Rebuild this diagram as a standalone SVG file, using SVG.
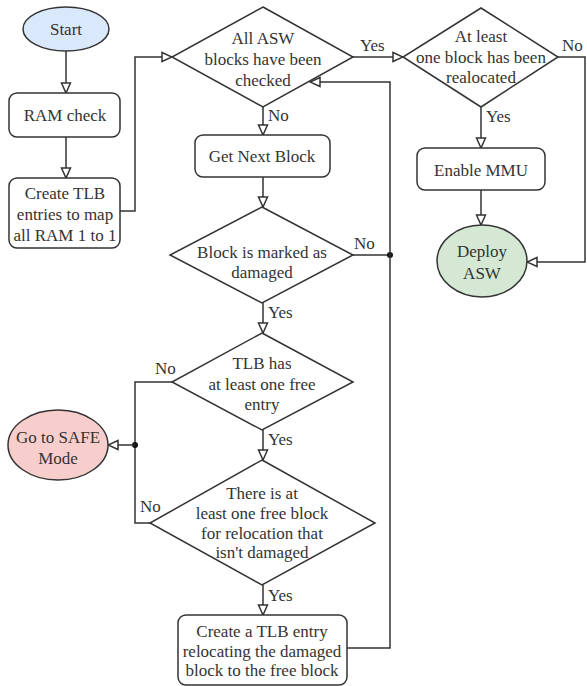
<svg xmlns="http://www.w3.org/2000/svg" width="587" height="686" viewBox="0 0 587 686">
<style>
.n{fill:#fff;stroke:#333;stroke-width:1.5}
.t{font-family:'Liberation Serif','Times New Roman','DejaVu Serif',serif;font-size:17px;fill:#333;text-anchor:middle;dominant-baseline:central}
.l{font-family:'Liberation Serif','Times New Roman','DejaVu Serif',serif;font-size:17px;fill:#333}
.c{fill:none;stroke:#333;stroke-width:1.5}
</style>
<defs>
<marker id="a" markerUnits="userSpaceOnUse" markerWidth="12" markerHeight="12" refX="11" refY="6" orient="auto" viewBox="0 0 12 12">
<path d="M1,1.5 L11,6 L1,10.5 z" fill="#fff" stroke="#333" stroke-width="1.5"/>
</marker>
</defs>
<rect width="587" height="686" fill="#fff"/>
<g id="connectors">
<path class="c" d="M66,51 V93" marker-end="url(#a)"/>
<path class="c" d="M66,137 V178" marker-end="url(#a)"/>
<path class="c" d="M120,211 H135 V57 H172" marker-end="url(#a)"/>
<path class="c" d="M353,57 H403" marker-end="url(#a)"/>
<path class="c" d="M263,107 V135" marker-end="url(#a)"/>
<path class="c" d="M263,177 V207" marker-end="url(#a)"/>
<path class="c" d="M353,255 H390"/>
<circle cx="390" cy="255" r="3" fill="#111"/>
<path class="c" d="M263,303 V333" marker-end="url(#a)"/>
<path class="c" d="M172,382 H135 V523 H150"/>
<circle cx="135" cy="445" r="3" fill="#111"/>
<path class="c" d="M135,445 H108" marker-end="url(#a)"/>
<path class="c" d="M263,430 V460" marker-end="url(#a)"/>
<path class="c" d="M263,585 V615" marker-end="url(#a)"/>
<path class="c" d="M347,648 H390 V82 H310" marker-end="url(#a)"/>
<path class="c" d="M481,107 V148" marker-end="url(#a)"/>
<path class="c" d="M558,57 H585 V262 H527" marker-end="url(#a)"/>
<path class="c" d="M481,190 V225" marker-end="url(#a)"/>
<text class="l" x="360" y="51">Yes</text>
<text class="l" x="268" y="121">No</text>
<text class="l" x="354" y="249">No</text>
<text class="l" x="268" y="318">Yes</text>
<text class="l" x="155" y="374">No</text>
<text class="l" x="268" y="445">Yes</text>
<text class="l" x="140" y="512">No</text>
<text class="l" x="268" y="601">Yes</text>
<text class="l" x="562" y="51">No</text>
<text class="l" x="486" y="122">Yes</text>
</g>
<g id="start">
<ellipse cx="66" cy="29" rx="43" ry="22" fill="#dae8fc" stroke="#333" stroke-width="1.5"/>
<text class="t" x="66" y="29">Start</text>
</g>
<g id="ramcheck">
<rect class="n" x="9" y="93" width="111" height="44" rx="8"/>
<text class="t" x="65" y="115">RAM check</text>
</g>
<g id="createtlb">
<rect class="n" x="9" y="178" width="111" height="70" rx="8"/>
<text class="t" x="65" y="193">Create TLB</text>
<text class="t" x="65" y="214">entries to map</text>
<text class="t" x="65" y="235">all RAM 1 to 1</text>
</g>
<g id="allchecked">
<polygon class="n" points="263,7 353,57 263,107 172,57"/>
<text class="t" x="263" y="38">All ASW</text>
<text class="t" x="263" y="59">blocks have been</text>
<text class="t" x="263" y="80">checked</text>
</g>
<g id="getnext">
<rect class="n" x="195" y="135" width="135" height="42" rx="8"/>
<text class="t" x="262" y="156">Get Next Block</text>
</g>
<g id="damaged">
<polygon class="n" points="262,207 353,255 262,303 170,255"/>
<text class="t" x="262" y="252">Block is marked as</text>
<text class="t" x="262" y="272">damaged</text>
</g>
<g id="tlbfree">
<polygon class="n" points="262,333 353,382 262,430 172,382"/>
<text class="t" x="262" y="363">TLB has</text>
<text class="t" x="262" y="384">at least one free</text>
<text class="t" x="262" y="404">entry</text>
</g>
<g id="freeblock">
<polygon class="n" points="262,460 375,523 262,585 150,523"/>
<text class="t" x="262" y="493">There is at</text>
<text class="t" x="262" y="513">least one free block</text>
<text class="t" x="262" y="533">for relocation that</text>
<text class="t" x="262" y="552">isn't damaged</text>
</g>
<g id="createentry">
<rect class="n" x="178" y="615" width="169" height="70" rx="8"/>
<text class="t" x="262" y="631">Create a TLB entry</text>
<text class="t" x="262" y="651">relocating the damaged</text>
<text class="t" x="262" y="670">block to the free block</text>
</g>
<g id="safe">
<ellipse cx="58" cy="445" rx="50" ry="35" fill="#f8cecc" stroke="#333" stroke-width="1.5"/>
<text class="t" x="58" y="437">Go to SAFE</text>
<text class="t" x="58" y="458">Mode</text>
</g>
<g id="realocated">
<polygon class="n" points="481,8 558,57 481,107 403,57"/>
<text class="t" x="481" y="36">At least</text>
<text class="t" x="481" y="57">one block has been</text>
<text class="t" x="481" y="77">realocated</text>
</g>
<g id="mmu">
<rect class="n" x="417" y="148" width="128" height="42" rx="8"/>
<text class="t" x="481" y="170">Enable MMU</text>
</g>
<g id="deploy">
<ellipse cx="482" cy="261" rx="45" ry="36" fill="#d5e8d4" stroke="#333" stroke-width="1.5"/>
<text class="t" x="482" y="251">Deploy</text>
<text class="t" x="482" y="273">ASW</text>
</g>
</svg>
